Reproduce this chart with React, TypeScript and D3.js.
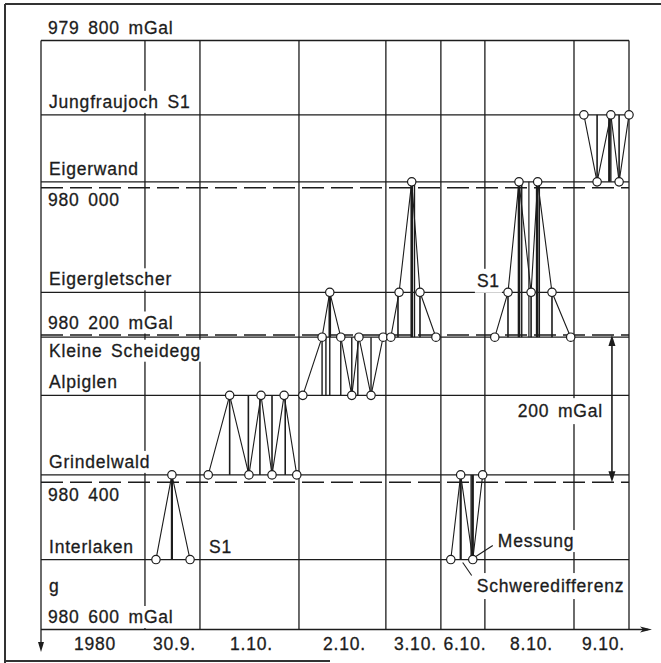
import React, { useEffect, useRef } from "react";
import * as d3 from "d3";

const W = 661;
const H = 663;

// Stations (gravity in mGal)
const stationKeys = ["JJ", "EW", "EG", "KS", "A", "G", "I"];
const stationNames = ["Jungfraujoch S1", "Eigerwand", "Eigergletscher", "Kleine Scheidegg", "Alpiglen", "Grindelwald", "Interlaken"];
const stationGravity = [979901, 979992, 980142, 980203, 980282, 980390, 980505];

// Gravity reference lines
const gravityDomain = [979800, 980600];
const gravityDashed = [980000, 980200, 980400];
const gravityTicks = [979800, 980000, 980200, 980400, 980600];
const gravityTickLabels = ["979 800 mGal", "980 000", "980 200 mGal", "980 400", "980 600 mGal"];

// Days (columns) and their durations in hours
const dayLabels = ["1980", "30.9.", "1.10.", "2.10.", "3.10.", "6.10.", "8.10.", "9.10."];
const dayHours = [9.45, 5, 9, 7.9, 5, 4, 8.1, 5];

// Measurement runs: day index, hours within the day, stations visited
const runDays = [1, 2, 3, 4, 5, 6, 7];
const runHours = [
  [1.0, 2.45, 4.1],
  [0.75, 2.7, 4.45, 5.55, 6.55, 7.65, 8.8],
  [0.35, 2.1, 2.8, 3.8, 4.8, 5.45, 6.55, 7.65],
  [0.45, 1.2, 2.35, 3.1, 4.55],
  [0.9, 1.8, 2.9, 3.8],
  [0.9, 2.1, 3.1, 4.2, 4.8, 6.1, 7.8],
  [0.9, 2.1, 3.35, 4.1, 5.0],
];
const runStations = [
  ["I", "G", "I"],
  ["G", "A", "G", "A", "G", "A", "G"],
  ["A", "KS", "EG", "KS", "A", "KS", "A", "KS"],
  ["KS", "EG", "EW", "EG", "KS"],
  ["I", "G", "I", "G"],
  ["KS", "EG", "EW", "EG", "EW", "EG", "KS"],
  ["JJ", "EW", "JJ", "EW", "JJ"],
];

// Gravity differences (vertical bars): day index, hour, from station, to station, weight
const diffDays = [1, 2, 2, 2, 2, 2, 3, 3, 3, 3, 3, 3, 3, 3, 4, 4, 4, 4, 5, 5, 5, 6, 6, 6, 6, 6, 6, 6, 6, 7, 7, 7, 7];
const diffHours = [2.45, 2.7, 4.4, 5.45, 6.55, 7.75, 2.1, 2.45, 2.8, 2.8, 3.8, 4.8, 5.35, 6.55, 1.1, 2.35, 2.6, 3.1, 1.8, 2.75, 2.9, 2.1, 3.1, 3.35, 4.0, 4.2, 4.75, 4.95, 6.1, 2.1, 3.2, 3.35, 4.1];
const diffFrom = ["G", "A", "G", "A", "G", "A", "KS", "KS", "EG", "KS", "KS", "A", "KS", "A", "EG", "EW", "EW", "EG", "G", "G", "G", "EG", "EW", "EW", "EW", "EG", "EW", "EW", "EG", "JJ", "JJ", "JJ", "JJ"];
const diffTo = ["I", "G", "A", "G", "A", "G", "A", "A", "KS", "A", "A", "KS", "A", "KS", "KS", "KS", "KS", "KS", "I", "I", "I", "KS", "KS", "KS", "KS", "KS", "KS", "KS", "KS", "EW", "EW", "EW", "EW"];
const diffWeight = [2.2, 1.6, 1.6, 1.6, 1.6, 1.6, 1.4, 1.4, 2.6, 1.4, 1.4, 1.4, 1.4, 1.4, 1.6, 2.6, 1.4, 1.6, 2.2, 1.4, 2.2, 1.6, 2.6, 1.4, 1.2, 1.6, 2.6, 1.4, 1.6, 1.6, 2.2, 1.4, 1.6];

const INK = "#1c1c1c";
const FONT = "'Liberation Sans', Arial, Helvetica, sans-serif";

export default function App() {
  const ref = useRef<SVGSVGElement | null>(null);

  useEffect(() => {
    const svg = d3.select(ref.current);
    svg.selectAll("*").remove();

    const total = d3.sum(dayHours);
    const dayStart = [0, ...d3.cumsum(dayHours)];
    const x = d3.scaleLinear().domain([0, total]).range([41, 629]);
    const y = d3.scaleLinear().domain(gravityDomain).range([40.5, 629.5]);
    const gOf = (k: string) => stationGravity[stationKeys.indexOf(k)];
    const x0 = x(0);
    const x1 = x(total);

    const styleText = (t: any) =>
      t.attr("font-family", FONT)
        .attr("font-size", 17.5)
        .attr("letter-spacing", "0.8px")
        .attr("word-spacing", "3px")
        .attr("fill", INK)
        .attr("stroke", INK)
        .attr("stroke-width", 0.3);

    // outer frame
    const frame = svg.append("g").attr("stroke", "#333").attr("stroke-width", 2);
    frame.append("line").attr("x1", 5).attr("x2", W).attr("y1", 4).attr("y2", 4);
    frame.append("line").attr("x1", 5).attr("x2", 5).attr("y1", 4).attr("y2", H);
    frame.append("line").attr("x1", 5).attr("x2", 330).attr("y1", 661).attr("y2", 661);

    // grid
    const grid = svg.append("g").attr("stroke", INK).attr("stroke-width", 1.3).attr("fill", "none");
    dayStart.forEach((t, i) => {
      if (i === 0 || i === dayStart.length - 1) return;
      grid.append("line").attr("x1", x(t)).attr("x2", x(t)).attr("y1", y(gravityDomain[0])).attr("y2", y(gravityDomain[1]));
    });
    grid.append("line").attr("x1", x1).attr("x2", x1).attr("y1", y(gravityDomain[0])).attr("y2", y(gravityDomain[1]));
    grid.append("line").attr("x1", x0).attr("x2", x1).attr("y1", y(gravityDomain[0])).attr("y2", y(gravityDomain[0]));
    stationGravity.forEach((g) => {
      grid.append("line").attr("x1", x0).attr("x2", x1).attr("y1", y(g)).attr("y2", y(g));
    });
    gravityDashed.forEach((g) => {
      grid.append("line").attr("x1", x0).attr("x2", x1).attr("y1", y(g)).attr("y2", y(g)).attr("stroke-dasharray", "22 7");
    });

    // axes with arrows
    const axisEndX = 652;
    const axisEndY = 652;
    grid.append("line").attr("x1", x0).attr("x2", x0).attr("y1", y(gravityDomain[0])).attr("y2", axisEndY - 4);
    grid.append("line").attr("x1", x0).attr("x2", axisEndX - 4).attr("y1", y(gravityDomain[1])).attr("y2", y(gravityDomain[1]));
    svg.append("path")
      .attr("d", `M${x0 - 3},${axisEndY - 10} L${x0 + 3},${axisEndY - 10} L${x0},${axisEndY} Z`)
      .attr("fill", INK);
    const yb = y(gravityDomain[1]);
    svg.append("path")
      .attr("d", `M${axisEndX - 12},${yb - 3} L${axisEndX},${yb} L${axisEndX - 12},${yb + 3} L${axisEndX - 9},${yb} Z`)
      .attr("fill", INK);

    // labels with white background
    const labels = svg.append("g");
    const label = (text: string, lx: number, ly: number, anchor = "start", pad = 2) => {
      const t = styleText(labels.append("text")
        .attr("x", lx).attr("y", ly)
        .attr("text-anchor", anchor))
        .text(text);
      const bb = (t.node() as SVGTextElement).getBBox();
      labels.insert("rect", () => t.node() as any)
        .attr("x", bb.x - pad).attr("y", bb.y - pad)
        .attr("width", bb.width + 2 * pad).attr("height", bb.height + 2 * pad)
        .attr("fill", "white");
      return t;
    };

    stationKeys.forEach((k, i) => {
      const below = k === "KS";
      label(stationNames[i], x0 + 8, y(stationGravity[i]) + (below ? 19.5 : -7), "start", 1);
    });
    gravityTicks.forEach((g, i) => {
      const below = i === 1 || i === 3;
      label(gravityTickLabels[i], x0 + 7, y(g) + (below ? 18.5 : -6.5), "start", 1);
    });
    label("g", x0 + 8, 592, "start", 1);

    dayLabels.forEach((d, i) => {
      const cx = x((dayStart[i] + dayStart[i + 1]) / 2) + 2;
      styleText(labels.append("text")
        .attr("x", cx).attr("y", 650)
        .attr("text-anchor", "middle"))
        .text(d);
    });

    label("S1", x(dayStart[2]) + 9, y(gOf("I")) - 6.5, "start", 1);
    label("S1", x(dayStart[6]) - 8, y(gOf("EG")) - 5.5, "start", 2);

    // 200 mGal arrow
    const ax = x(dayStart[7] + 3.45);
    const ay1 = y(980200);
    const ay2 = y(980400);
    label("200 mGal", ax - 9, (ay1 + ay2) / 2 + 8.5, "end", 3);
    svg.append("line").attr("x1", ax).attr("x2", ax).attr("y1", ay1 + 8).attr("y2", ay2 - 8)
      .attr("stroke", INK).attr("stroke-width", 1.6);
    svg.append("path").attr("d", `M${ax - 3.5},${ay1 + 11} L${ax},${ay1} L${ax + 3.5},${ay1 + 11} Z`).attr("fill", INK);
    svg.append("path").attr("d", `M${ax - 3.5},${ay2 - 11} L${ax},${ay2} L${ax + 3.5},${ay2 - 11} Z`).attr("fill", INK);

    // measurement runs
    const runs = svg.append("g");
    diffDays.forEach((d, i) => {
      const xx = x(dayStart[d] + diffHours[i]);
      runs.append("line")
        .attr("x1", xx).attr("x2", xx)
        .attr("y1", y(gOf(diffFrom[i]))).attr("y2", y(gOf(diffTo[i])))
        .attr("stroke", INK).attr("stroke-width", diffWeight[i]);
    });
    const line = d3.line<[number, number]>().x((p) => p[0]).y((p) => p[1]);
    runDays.forEach((d, ri) => {
      const pts: [number, number][] = runHours[ri].map((h, j) => [x(dayStart[d] + h), y(gOf(runStations[ri][j]))]);
      runs.append("path").attr("d", line(pts)).attr("fill", "none").attr("stroke", INK).attr("stroke-width", 1.1);
      pts.forEach((p) => {
        runs.append("circle").attr("cx", p[0]).attr("cy", p[1]).attr("r", 4.2)
          .attr("fill", "white").attr("stroke", INK).attr("stroke-width", 1.2);
      });
    });

    // legend annotations (Messung / Schweredifferenz)
    const mp: [number, number] = [x(dayStart[5] + runHours[4][2]), y(gOf("I"))];
    runs.append("line").attr("x1", mp[0] + 3).attr("y1", mp[1] - 3).attr("x2", mp[0] + 20).attr("y2", mp[1] - 14)
      .attr("stroke", INK).attr("stroke-width", 1.1);
    label("Messung", mp[0] + 25, mp[1] - 12.5, "start", 1);
    const sp: [number, number] = [x(dayStart[5] + diffHours[18]), y(gOf("I"))];
    runs.append("line").attr("x1", sp[0] + 2).attr("y1", sp[1] + 3).attr("x2", sp[0] + 11).attr("y2", sp[1] + 16)
      .attr("stroke", INK).attr("stroke-width", 1.1);
    label("Schweredifferenz", sp[0] + 16, sp[1] + 32.5, "start", 3);
  }, []);

  return (
    <div style={{ position: "absolute", left: 0, top: 0, width: W, height: H, background: "white" }}>
      <svg ref={ref} width={W} height={H} style={{ display: "block" }} />
    </div>
  );
}
